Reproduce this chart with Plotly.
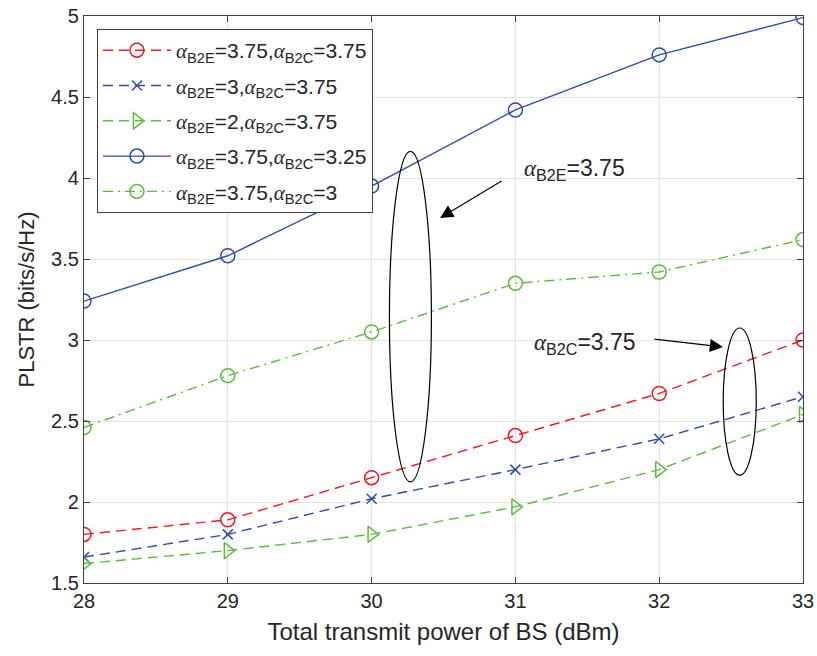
import plotly.graph_objects as go

power = [28, 29, 30, 31, 32, 33]
s1 = [1.80, 1.89, 2.15, 2.41, 2.67, 3.00]   # B2E=3.75, B2C=3.75
s2 = [1.66, 1.80, 2.02, 2.20, 2.39, 2.65]   # B2E=3, B2C=3.75
s3 = [1.62, 1.70, 1.80, 1.97, 2.20, 2.54]   # B2E=2, B2C=3.75
s4 = [3.24, 3.52, 3.95, 4.42, 4.76, 4.99]   # B2E=3.75, B2C=3.25
s5 = [2.46, 2.78, 3.05, 3.35, 3.42, 3.62]   # B2E=3.75, B2C=3

A = '<span style="font-family:Liberation Serif"><i>α</i></span>'


def sub(t):
    return f'<sub>{t}</sub>'


names = [
    f"{A}{sub('B2E')}=3.75,{A}{sub('B2C')}=3.75",
    f"{A}{sub('B2E')}=3,{A}{sub('B2C')}=3.75",
    f"{A}{sub('B2E')}=2,{A}{sub('B2C')}=3.75",
    f"{A}{sub('B2E')}=3.75,{A}{sub('B2C')}=3.25",
    f"{A}{sub('B2E')}=3.75,{A}{sub('B2C')}=3",
]

RED = "#ee1d23"
BLUE = "#2f4ea3"
GREEN = "#5dba3f"
TXT = "#262626"
FONT = "Liberation Sans, Arial"

styles = [
    dict(color=RED, dash="10px,6px", symbol="circle-open", size=14),
    dict(color=BLUE, dash="10px,6px", symbol="x-thin-open", size=10),
    dict(color=GREEN, dash="10px,6px", symbol="triangle-right-open", size=14),
    dict(color=BLUE, dash="solid", symbol="circle-open", size=14),
    dict(color=GREEN, dash="10px,5px,2px,5px", symbol="circle-open", size=14),
]

fig = go.Figure()
for i, (ys, nm, st) in enumerate(zip([s1, s2, s3, s4, s5], names, styles)):
    fig.add_trace(go.Scatter(
        x=power, y=ys, name=nm, mode="lines+markers", legendgroup=f"g{i}",
        line=dict(color=st["color"], width=1.4, dash=st["dash"]),
        marker=dict(symbol=st["symbol"], size=st["size"], color=st["color"],
                    line=dict(width=1.5, color=st["color"])),
    ))

# ellipses
fig.add_shape(type="circle", xref="x", yref="y", x0=30.124, x1=30.416, y0=2.124, y1=4.164,
              line=dict(color="black", width=1.2))
fig.add_shape(type="circle", xref="x", yref="y", x0=32.445, x1=32.675, y0=2.166, y1=3.074,
              line=dict(color="black", width=1.2))

# arrows
fig.add_annotation(x=30.476, y=3.753, ax=63, ay=-38, xref="x", yref="y", text="",
                   showarrow=True, arrowhead=2, arrowsize=2.4, arrowwidth=1.1, arrowcolor="black")
fig.add_annotation(x=32.444, y=2.957, ax=-70, ay=-8, xref="x", yref="y", text="",
                   showarrow=True, arrowhead=2, arrowsize=2.4, arrowwidth=1.1, arrowcolor="black")
fig.add_annotation(x=31.046, y=4.05, xref="x", yref="y", text=f"{A}{sub('B2E')}=3.75",
                   showarrow=False, xanchor="left", yanchor="middle",
                   font=dict(family=FONT, size=23, color=TXT))
fig.add_annotation(x=31.115, y=2.98, xref="x", yref="y", text=f"{A}{sub('B2C')}=3.75",
                   showarrow=False, xanchor="left", yanchor="middle",
                   font=dict(family=FONT, size=23, color=TXT))

axis_common = dict(
    showgrid=True, gridcolor="#e3e3e3", gridwidth=1,
    showline=True, linecolor="#404040", linewidth=1.3, mirror="ticks",
    ticks="inside", ticklen=6, tickcolor="#404040", tickwidth=1.3,
    zeroline=False, automargin=False,
    tickfont=dict(family=FONT, size=20, color=TXT),
)

fig.update_layout(
    width=817, height=656,
    margin=dict(l=84, r=14, t=16, b=73, autoexpand=False),
    paper_bgcolor="white", plot_bgcolor="white",
    font=dict(family=FONT, color=TXT),
    xaxis=dict(range=[28, 33], tickvals=[28, 29, 30, 31, 32, 33],
               title=dict(text="Total transmit power of BS (dBm)",
                          font=dict(size=24, color=TXT), standoff=12),
               **axis_common),
    yaxis=dict(range=[1.5, 5], tickvals=[1.5, 2, 2.5, 3, 3.5, 4, 4.5, 5],
               ticktext=["1.5", "2", "2.5", "3", "3.5", "4", "4.5", "5"],
               title=dict(text="PLSTR (bits/s/Hz)", font=dict(size=22, color=TXT), standoff=10),
               **axis_common),
    legend=dict(x=0.018, y=0.977, xanchor="left", yanchor="top",
                bgcolor="white", bordercolor="#404040", borderwidth=1,
                font=dict(family=FONT, size=21, color=TXT),
                itemwidth=68, tracegroupgap=5),
    showlegend=True,
)

fig.write_html("out.html", config={"displayModeBar": False},
               post_script="document.body.style.margin='0';document.body.style.overflow='hidden';")
